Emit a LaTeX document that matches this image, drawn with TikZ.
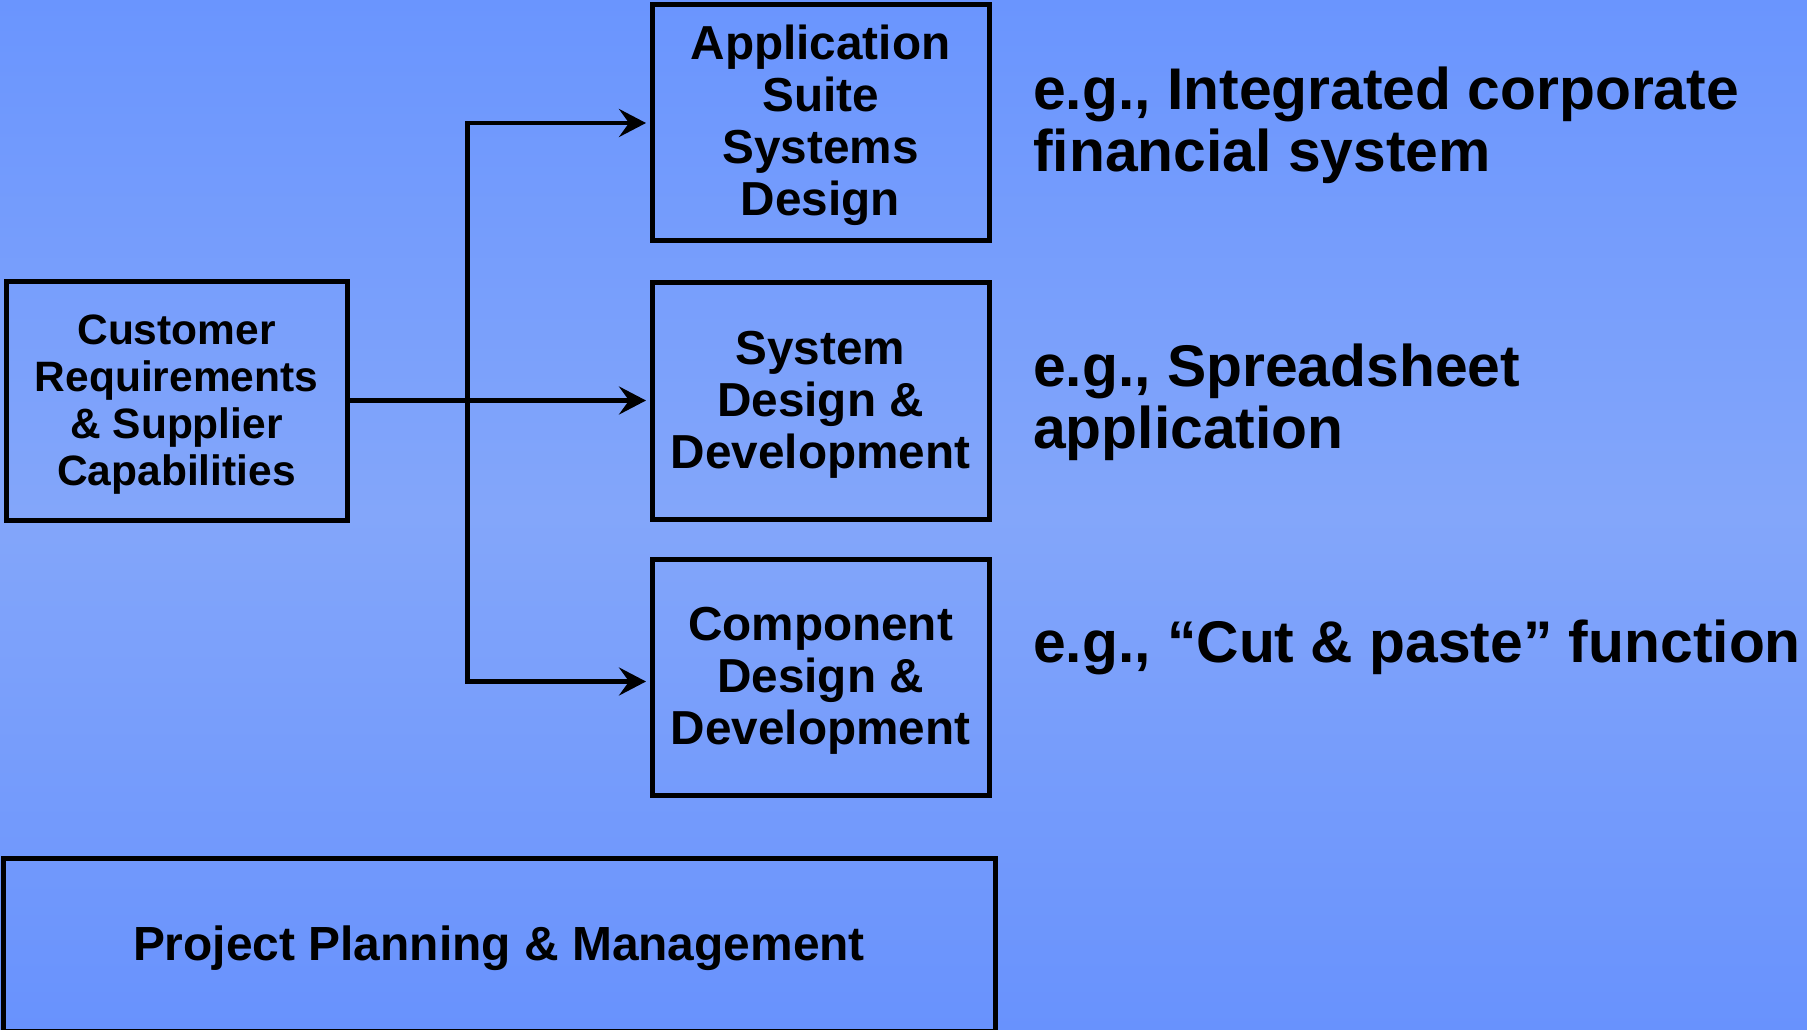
\documentclass[tikz,border=0pt]{standalone}
\usepackage{fontspec}
\setmainfont{Liberation Sans}
\usetikzlibrary{arrows.meta}
\definecolor{bgtop}{RGB}{106,149,254}
\definecolor{bgmid}{RGB}{131,166,250}
\definecolor{bgbot}{RGB}{104,146,253}
\newcommand{\toppad}[1]{\rule{0pt}{#1}}
\begin{document}
\begin{tikzpicture}[x=1pt,y=-1pt,
  box/.style={draw=black,line width=5pt,align=center,inner sep=0pt,
    font=\bfseries\fontsize{47.7}{52}\selectfont},
  smallbox/.style={box,font=\bfseries\fontsize{42.5}{47}\selectfont},
  conn/.style={line width=4.5pt},
  tipend/.style={-{Stealth[length=27pt,width=28pt,inset=10pt]},shorten >=3.5pt},
  note/.style={align=left,anchor=west,inner sep=0pt,
    font=\bfseries\fontsize{58.8}{62}\selectfont}]
\useasboundingbox (0,0) rectangle (1807,1030);
\shade[top color=bgtop,bottom color=bgbot,middle color=bgmid] (0,0) rectangle (1807,1030);

\node[smallbox,minimum width=341pt,minimum height=239pt] (cust) at (176.5,400.5)
  {\toppad{38pt}Customer\\Requirements\\\& Supplier\\Capabilities};
\node[box,minimum width=337pt,minimum height=235.5pt] (app) at (820.5,122.25)
  {\toppad{41.5pt}Application\\Suite\\Systems\\Design};
\node[box,minimum width=337pt,minimum height=237pt] (sys) at (820.5,400.5)
  {\toppad{41.5pt}System\\Design \&\\Development};
\node[box,minimum width=337pt,minimum height=236pt] (comp) at (820.5,677)
  {\toppad{41.5pt}Component\\Design \&\\Development};
\node[box,minimum width=992pt,minimum height=172.5pt,
  font=\bfseries\fontsize{47.9}{52}\selectfont] (proj) at (499,944.75)
  {\toppad{42pt}Project Planning \& Management};

\node[note] (n1) at (1033,125) {e.g., Integrated corporate\\financial system};
\node[note] (n2) at (1033,402) {e.g., Spreadsheet\\application};
\node[note,anchor=base west] (n3) at (1033,662) {e.g., “Cut \& paste” function};

\coordinate (jt) at (467.5,123);
\coordinate (jb) at (467.5,681.5);
\draw[conn,{Stealth[length=27pt,width=28pt,inset=10pt]}-{Stealth[length=27pt,width=28pt,inset=10pt]},
  shorten <=3.5pt,shorten >=3.5pt]
  (app.west |- jt) -- (jt) -- (jb) -- (comp.west |- jb);
\draw[conn,tipend] (cust.east) -- (sys.west);
\end{tikzpicture}
\end{document}
